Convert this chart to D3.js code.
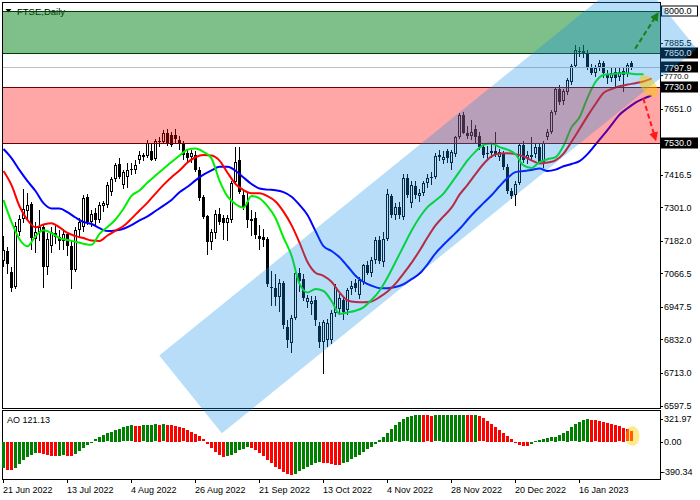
<!DOCTYPE html>
<html><head><meta charset="utf-8">
<script src="https://d3js.org/d3.v7.min.js"></script>
<style>
html,body{margin:0;padding:0;background:#fff;}
svg{display:block;}
text{font-family:"Liberation Sans",Arial,sans-serif;font-size:9px;fill:#000;}
</style></head>
<body>
<svg id="chart" width="700" height="500"></svg>
<script>
// ---------- DATA ----------
const title = "FTSE,Daily";
// daily candles [open, high, low, close], 21 Jun 2022 .. 2 Feb 2023
const ohlc = [
[7110,7200,7090,7150],[7145,7160,7065,7100],[7073,7090,7000,7015],[7020,7250,7010,7235],[7215,7275,7200,7258],
[7258,7365,7245,7295],[7288,7352,7260,7310],[7312,7320,7150,7192],[7190,7250,7140,7215],[7215,7290,7180,7230],
[7230,7240,7015,7090],[7090,7210,7060,7190],[7165,7230,7140,7215],[7210,7240,7170,7195],[7195,7220,7150,7180],
[7180,7225,7150,7205],[7205,7215,7130,7165],[7165,7180,7010,7080],[7080,7230,7070,7220],[7220,7265,7195,7250],
[7230,7345,7215,7335],[7337,7350,7240,7250],[7250,7290,7230,7278],[7280,7300,7240,7255],[7256,7320,7245,7310],
[7305,7325,7285,7315],[7310,7390,7300,7380],[7355,7410,7340,7400],[7400,7460,7390,7450],[7455,7475,7400,7410],
[7380,7435,7365,7425],[7410,7460,7370,7435],[7435,7460,7415,7438],[7433,7470,7420,7452],[7468,7500,7455,7486],
[7486,7495,7465,7480],[7482,7540,7475,7530],[7500,7530,7465,7470],[7472,7545,7465,7538],[7535,7550,7515,7532],
[7532,7575,7525,7565],[7565,7580,7520,7530],[7558,7570,7515,7522],[7558,7578,7530,7542],[7540,7555,7505,7525],
[7525,7535,7470,7487],[7494,7510,7460,7476],[7480,7505,7460,7493],[7486,7500,7425,7433],[7433,7445,7325,7334],
[7337,7345,7260,7268],[7270,7275,7131,7177],[7177,7225,7150,7213],[7210,7290,7190,7277],[7277,7300,7240,7250],
[7262,7275,7185,7245],[7245,7275,7180,7262],[7255,7395,7245,7387],[7390,7515,7380,7462],[7470,7515,7350,7355],
[7345,7360,7290,7298],[7320,7352,7226,7256],[7258,7290,7200,7252],[7262,7285,7190,7202],[7200,7240,7150,7190],
[7195,7225,7160,7185],[7188,7195,7020,7029],[7020,7075,6950,7015],[7015,7065,6950,6982],[6982,7045,6930,7031],
[7031,7040,6870,6882],[6875,6900,6800,6829],[6818,6920,6783,6907],[6907,7075,6900,7067],[7067,7085,7000,7040],
[7045,7065,6970,6980],[6965,6990,6945,6978],[6958,6985,6920,6970],[6971,6985,6880,6900],[6880,6895,6800,6822],
[6822,6900,6710,6893],[6830,6905,6805,6890],[6830,6935,6815,6925],[6925,7030,6910,7020],[6940,6995,6920,6978],
[6971,6985,6900,6930],[6935,7015,6920,7007],[7010,7040,6990,7022],[7031,7045,7000,7015],[6990,7055,6975,7042],
[7035,7100,7025,7095],[7095,7110,7060,7067],[7067,7125,7055,7113],[7113,7195,7100,7184],[7184,7200,7100,7110],
[7106,7215,7090,7190],[7190,7365,7180,7350],[7340,7350,7265,7275],[7275,7315,7255,7302],[7302,7320,7260,7275],
[7266,7420,7255,7405],[7405,7420,7335,7345],[7316,7395,7300,7380],[7376,7395,7330,7345],[7340,7365,7320,7352],
[7352,7395,7340,7387],[7387,7420,7370,7405],[7405,7425,7380,7410],[7408,7495,7400,7483],[7480,7505,7465,7486],
[7468,7500,7455,7479],[7500,7510,7460,7476],[7460,7505,7435,7497],[7490,7555,7480,7550],[7550,7635,7545,7628],
[7628,7640,7560,7565],[7565,7590,7545,7556],[7556,7612,7540,7568],[7580,7595,7530,7550],[7555,7570,7505,7515],
[7515,7525,7475,7486],[7490,7520,7465,7495],[7495,7530,7475,7500],[7500,7568,7480,7492],[7480,7510,7465,7497],
[7495,7500,7435,7445],[7445,7455,7350,7360],[7360,7370,7330,7340],[7345,7395,7305,7385],[7387,7530,7380,7522],
[7522,7535,7460,7470],[7475,7500,7455,7486],[7486,7550,7470,7480],[7490,7525,7475,7515],[7515,7530,7455,7462],
[7462,7535,7440,7529],[7550,7580,7540,7568],[7568,7645,7560,7639],[7639,7730,7630,7720],[7720,7735,7665,7675],
[7678,7720,7665,7713],[7712,7760,7700,7752],[7745,7810,7735,7802],[7802,7877,7795,7858],[7852,7870,7835,7855],
[7855,7878,7830,7850],[7850,7860,7790,7795],[7795,7810,7770,7778],[7778,7805,7765,7795],[7798,7825,7785,7812],
[7812,7820,7760,7778],[7770,7790,7740,7760],[7760,7795,7745,7778],[7780,7800,7730,7760],[7765,7800,7750,7780],
[7785,7800,7712,7770],[7775,7815,7765,7806],[7812,7822,7790,7797.9]
];
// Awesome Oscillator, one value per candle
const aoValues = [
-305,-328,-334,-312,-262,-218,-182,-152,-128,-132,
-142,-156,-166,-170,-164,-158,-163,-168,-140,-108,
-72,-38,-6,28,58,80,98,118,138,155,
170,182,192,190,188,193,197,200,204,201,
205,203,198,190,178,160,140,118,92,62,
28,-18,-68,-115,-155,-182,-172,-150,-125,-100,
-78,-60,-72,-98,-132,-168,-210,-252,-292,-325,
-352,-374,-390.34,-378,-350,-322,-296,-270,-252,-238,
-246,-255,-262,-268,-272,-255,-232,-205,-178,-150,
-118,-88,-55,-18,20,60,105,150,192,232,
265,290,306,316,321.97,319,314,308,311,314,
316,318,319.5,320.5,321.2,321.6,319,316,317.5,300,
275,245,210,175,140,105,70,35,-5,-30,
-45,-50,-22,8,25,35,42,50,58,75,
100,130,170,205,232,255,270,262,254,245,
235,224,212,198,183,165,145,121.13
];
// Alligator lines, one value every 2nd bar (shifted lines run past the last candle)
const lineStep = 2;
const jawValues = [
7508,7476,7433,7394,7359,7316,7297,7297,7284,7265,7249,7242,7227,7217,7219,7225,7238,7255,7269,7288,
7307,7327,7355,7374,7397,7417,7432,7445,7445,7431,7407,7384,7368,7364,7362,7355,7339,7310,7274,7217,
7163,7146,7124,7092,7058,7036,7023,7014,7014,7018,7028,7046,7066,7099,7138,7168,7196,7224,7257,7288,
7316,7344,7376,7405,7426,7430,7434,7439,7430,7435,7447,7455,7465,7490,7524,7558,7594,7630,7653,7673,
7687,7698];
const teethValues = [
7430,7380,7305,7256,7230,7240,7245,7230,7210,7199,7192,7183,7182,7201,7218,7235,7261,7290,7318,7350,
7381,7408,7432,7460,7479,7487,7485,7467,7424,7384,7362,7351,7351,7341,7322,7286,7238,7176,7107,7069,
7058,7037,6999,6971,6965,6964,6967,6982,7002,7030,7066,7104,7147,7194,7237,7269,7300,7346,7381,7419,
7455,7482,7492,7493,7490,7482,7468,7457,7460,7468,7492,7534,7579,7625,7668,7707,7721,7731,7737,7742,
7748,7758];
const lipsValues = [
7327,7249,7188,7163,7199,7220,7210,7192,7185,7179,7172,7168,7207,7231,7258,7296,7342,7361,7389,7414,
7438,7462,7485,7506,7510,7498,7475,7396,7340,7313,7300,7341,7333,7305,7263,7194,7130,7030,6999,7011,
7004,6969,6923,6928,6934,6946,6972,7005,7052,7107,7163,7218,7265,7302,7325,7350,7388,7428,7468,7499,
7523,7528,7515,7506,7490,7450,7441,7462,7472,7479,7520,7585,7621,7690,7746,7771,7774,7777,7777,7774,
7774];
const dateTickBars = [0,16,32,48,64,80,96,112,128,144];
const dateTickLabels = ["21 Jun 2022","13 Jul 2022","4 Aug 2022","26 Aug 2022","21 Sep 2022",
  "13 Oct 2022","4 Nov 2022","28 Nov 2022","20 Dec 2022","16 Jan 2023"];
const priceTicks = [7885.5,7770.0,7651.0,7416.5,7301.0,7182.0,7066.5,6947.5,6832.0,6713.0,6597.5];
const boxedLevels = [8000.0,7850.0,7797.9,7730.0,7530.0];
const aoTicks = [321.97,0.00,-390.34];
const greenZone = [7850,8000];
const redZone = [7530,7730];
const lastPrice = 7797.9;
const aoLast = 121.13;
// drawn objects, in [bar, price] coordinates
const channel = [[38.95,6774.7],[54.6,6498.8],[173.3,7864],[157.55,8139]];
const upArrow = [[157.9,7864],[163.3,7984]];
const downArrow = [[159.95,7688],[162.9,7548]];
const mainMark = [161.25,7732];
const aoMark = [157.25,66];

// ---------- LAYOUT ----------
const svg = d3.select("#chart");
const P = {l:2, r:660, t:2, b:408};
const A = {t:410, b:479};
const x = d3.scaleLinear().domain([0,164]).range([3.5,659.5]);
const y = d3.scaleLinear().domain([6597.5,8000]).range([405.5,10.5]);
const ya = d3.scaleLinear().domain([-390.34,321.97]).range([474.5,414.5]);
const px = v => Math.round(v) + 0.5;

svg.append("rect").attr("width",700).attr("height",500).attr("fill","#fff");
const defs = svg.append("defs");
defs.append("clipPath").attr("id","mainClip").append("rect")
  .attr("x",P.l).attr("y",P.t).attr("width",P.r-P.l).attr("height",P.b-P.t);
function marker(id,color){
  defs.append("marker").attr("id",id).attr("viewBox","0 0 10 10").attr("refX",6).attr("refY",5)
    .attr("markerWidth",4.5).attr("markerHeight",4.5).attr("orient","auto")
    .append("path").attr("d","M0,0 L10,5 L0,10 Z").attr("fill",color);
}
marker("arrG","#17801a");
marker("arrR","#ff1a1a");

// title
svg.append("path").attr("d","M5.5,9 L11.5,9 L8.5,12.5 Z").attr("fill","#000");
svg.append("text").attr("x",17).attr("y",15).style("font-size","9.5px").text(title);

const main = svg.append("g").attr("clip-path","url(#mainClip)");

// candles
const cg = main.append("g");
ohlc.forEach((d,i)=>{
  const [o,h,l,c] = d; const cx = x(i);
  cg.append("line").attr("x1",cx).attr("x2",cx)
    .attr("y1",Math.round(y(h))).attr("y2",Math.round(y(l)))
    .attr("stroke","#000").attr("stroke-width",1);
  const top = Math.round(y(Math.max(o,c))), bot = Math.round(y(Math.min(o,c)));
  if (c >= o && bot - top >= 2) {
    cg.append("rect").attr("x",cx-1).attr("y",top+0.5).attr("width",2).attr("height",bot-top-1)
      .attr("fill","#fff").attr("stroke","#000").attr("stroke-width",1);
  } else {
    cg.append("rect").attr("x",cx-1.5).attr("y",top).attr("width",3).attr("height",Math.max(bot-top,1)).attr("fill","#000");
  }
});

// alligator
const line = d3.line().x((d,i)=>x(i*lineStep)).y(d=>y(d)).curve(d3.curveMonotoneX);
[[jawValues,"#0000ff"],[teethValues,"#ff0000"],[lipsValues,"#00ee00"]].forEach(([vals,col])=>{
  main.append("path").attr("d",line(vals)).attr("fill","none").attr("stroke",col).attr("stroke-width",2);
});

// current price line
svg.append("line").attr("x1",P.l).attr("x2",P.r).attr("y1",px(y(lastPrice))).attr("y2",px(y(lastPrice)))
  .attr("stroke","#c0c0c0").attr("stroke-width",1);

// zones
function zone(range, fill, op, edge){
  const y0 = Math.round(y(range[1])), y1 = Math.round(y(range[0]));
  svg.append("rect").attr("x",P.l).attr("y",y0).attr("width",P.r-P.l).attr("height",y1-y0)
    .attr("fill",fill).attr("fill-opacity",op);
  [y0,y1].forEach(v=>svg.append("line").attr("x1",P.l).attr("x2",P.r).attr("y1",v+0.5).attr("y2",v+0.5)
    .attr("stroke",edge).attr("stroke-width",1));
}
zone(greenZone,"rgb(0,128,20)",0.5,"#003d00");
zone(redZone,"rgb(255,0,0)",0.35,"#700000");

// frames
svg.append("rect").attr("x",P.l+0.5).attr("y",P.t+0.5).attr("width",P.r-P.l).attr("height",P.b-P.t)
  .attr("fill","none").attr("stroke","#000");
svg.append("rect").attr("x",P.l+0.5).attr("y",A.t+0.5).attr("width",P.r-P.l).attr("height",A.b-A.t)
  .attr("fill","none").attr("stroke","#000");

// price axis (the 7770.0 label sits half-hidden between boxes, as in the source)
priceTicks.forEach(v=>{
  const yy = y(v);
  svg.append("line").attr("x1",P.r).attr("x2",P.r+3).attr("y1",px(yy)).attr("y2",px(yy)).attr("stroke","#000");
  const t = svg.append("text").attr("x",664).attr("y",yy).attr("dy","0.35em").text(v.toFixed(1));
  if (v === 7770.0) t.attr("dy","0.5em").style("font-size","8px");
});
boxedLevels.forEach((v,k)=>{
  const yy = y(v);
  const white = k===0;
  svg.append("rect").attr("x",661.5).attr("y",Math.round(yy)-5).attr("width",36).attr("height",10)
    .attr("fill",white?"#fff":"#000").attr("stroke","#000");
  svg.append("text").attr("x",664).attr("y",yy).attr("dy","0.35em").style("fill",white?"#000":"#fff").text(v.toFixed(1));
});

// AO histogram
const ag = svg.append("g");
aoValues.forEach((v,i)=>{
  const up = i===0 ? true : v > aoValues[i-1];
  const y0 = ya(0), y1 = ya(v);
  ag.append("rect").attr("x",x(i)-1.5).attr("y",Math.round(Math.min(y0,y1))).attr("width",3)
    .attr("height",Math.max(1,Math.round(Math.abs(y1-y0)))).attr("fill",up?"#008000":"#ff0000");
});
svg.append("text").attr("x",7).attr("y",423).text("AO " + aoLast.toFixed(2));
const aoLabelY = [ya(aoTicks[0])+4.5, ya(0), ya(aoTicks[2])-3];
aoTicks.forEach((v,k)=>{
  svg.append("line").attr("x1",P.r).attr("x2",P.r+3).attr("y1",px(aoLabelY[k])).attr("y2",px(aoLabelY[k])).attr("stroke","#000");
  svg.append("text").attr("x",v<0?662:664).attr("y",aoLabelY[k]).attr("dy","0.35em").text(v.toFixed(2));
});

// date axis
dateTickBars.forEach((b,k)=>{
  const xx = x(b);
  svg.append("line").attr("x1",xx).attr("x2",xx).attr("y1",A.b).attr("y2",A.b+4).attr("stroke","#000");
  svg.append("text").attr("x",xx-0.5).attr("y",493).text(dateTickLabels[k]);
});

// rising channel
svg.append("path").attr("d", d3.line().x(d=>x(d[0])).y(d=>y(d[1]))(channel)+"Z")
  .attr("fill","rgb(15,142,232)").attr("fill-opacity",0.3);

// arrows
function arrow(pts,col,mk){
  svg.append("line").attr("x1",x(pts[0][0])).attr("y1",y(pts[0][1])).attr("x2",x(pts[1][0])).attr("y2",y(pts[1][1]))
    .attr("stroke",col).attr("stroke-width",2).attr("stroke-dasharray","5,3").attr("marker-end","url(#"+mk+")");
}
arrow(upArrow,"#17801a","arrG");
arrow(downArrow,"#ff1a1a","arrR");

// highlight ellipses
svg.append("ellipse").attr("cx",0).attr("cy",0).attr("rx",12.5).attr("ry",7)
  .attr("transform",`translate(${x(mainMark[0])},${y(mainMark[1])}) rotate(55)`)
  .attr("fill","rgb(255,200,0)").attr("fill-opacity",0.5);
svg.append("ellipse").attr("cx",x(aoMark[0])).attr("cy",ya(aoMark[1])).attr("rx",7).attr("ry",10)
  .attr("fill","rgb(255,210,0)").attr("fill-opacity",0.45);
</script>
</body></html>
